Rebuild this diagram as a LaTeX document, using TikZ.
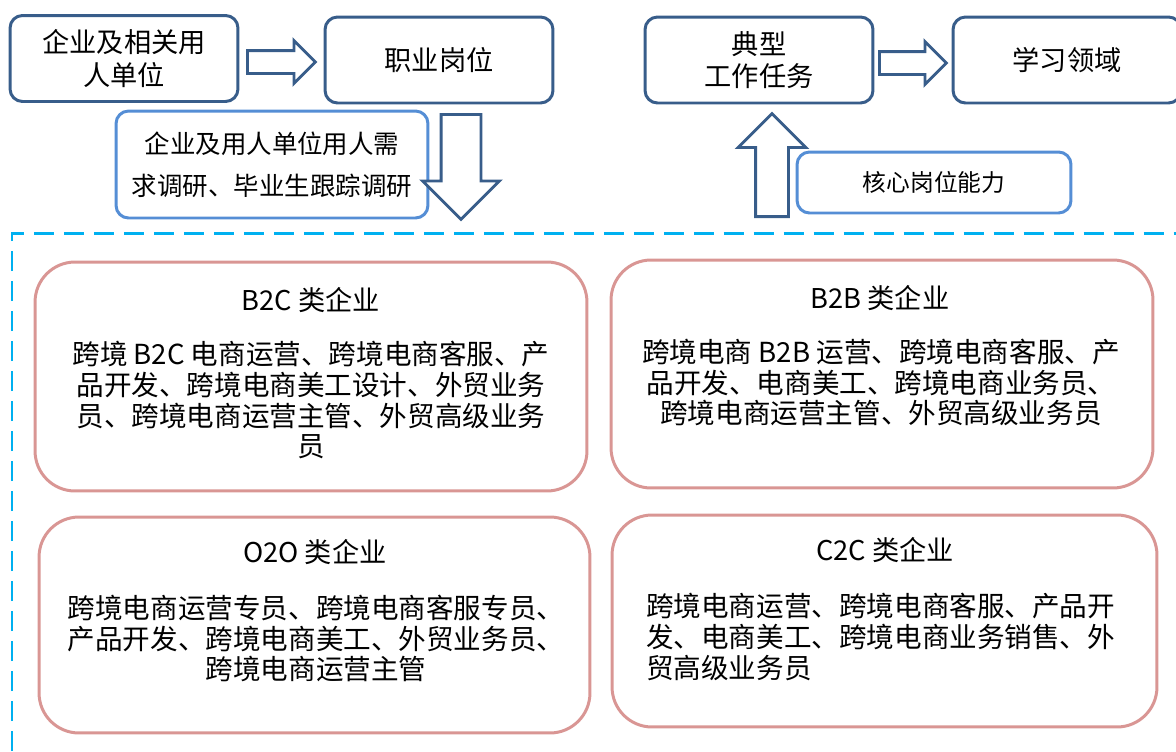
\documentclass[tikz,border=0pt]{standalone}
\usepackage{fontspec}
\setmainfont{Noto Sans CJK SC}
\usetikzlibrary{shapes.arrows}
\definecolor{boxblue}{HTML}{385D8A}
\definecolor{lightblue}{HTML}{558ED5}
\definecolor{pinkline}{HTML}{D99694}
\definecolor{dashblue}{HTML}{00B0F0}

\begin{document}
\begin{tikzpicture}[x=0.02cm,y=-0.02cm,
        topbox/.style={draw=boxblue, line width=1.7pt, rounded corners=0.25cm,
            minimum width=4.56cm, minimum height=1.72cm, align=center,
            font=\fontsize{15.5}{18.5}\selectfont},
        notebox/.style={draw=lightblue, line width=1.7pt, rounded corners=0.25cm, align=center},
        typebox/.style={draw=pinkline, line width=1.7pt, rounded corners=0.8cm},
        typetitle/.style={font=\fontsize{15.5}{18}\selectfont},
        typetext/.style={font=\fontsize{15.7}{17.6}\selectfont},
        hollowarrow/.style={single arrow, draw=boxblue, line width=1.6pt, fill=white,
            inner xsep=0pt, anchor=tail}]
        \useasboundingbox (0,0) rectangle (1176,751);
        \clip (0,0) rectangle (1176,751);

        % top row
        \node[topbox] (unit) at (124,58.5) {企业及相关用\\人单位};
        \node[topbox] (post) at (439,60) {职业岗位};
        \node[topbox] (task) at (759,60) {典型\\工作任务};
        \node[topbox] (field) at (1067,60) {学习领域};

        \node[notebox, minimum width=6.24cm, minimum height=2.14cm,
            font=\fontsize{14.5}{23.8}\selectfont] (survey) at (272,164.5)
            {企业及用人单位用人需\\求调研、毕业生跟踪调研};
        \node[notebox, minimum width=5.48cm, minimum height=1.22cm,
            font=\fontsize{13.5}{16}\selectfont] (core) at (934,182.5) {核心岗位能力};

        % block arrows
        \node[hollowarrow, inner ysep=0.2cm, single arrow head extend=0.2cm,
            minimum height=1.36cm] (toPost) at (246,62) {};
        \node[hollowarrow, inner ysep=0.2cm, single arrow head extend=0.2cm,
            minimum height=1.34cm] (toField) at (878,63) {};
        \node[hollowarrow, inner ysep=0.37cm, single arrow head extend=0.37cm,
            minimum height=2.1cm, rotate=-90] (down) at (461,113) {};
        \node[hollowarrow, inner ysep=0.3cm, single arrow head extend=0.35cm,
            minimum height=2.06cm, rotate=90] (up) at (772,218) {};

        % dashed frame
        \draw[dashblue, line width=1.7pt, dash pattern=on 0.4cm off 0.2cm]
            (12,751) -- (12,233) -- (1176,233);

        % enterprise types
        \node[typebox, minimum width=11.04cm, minimum height=4.58cm] (b2c) at (311,376.5) {};
        \node[typebox, minimum width=10.84cm, minimum height=4.56cm] (b2b) at (882,374) {};
        \node[typebox, minimum width=11.02cm, minimum height=4.32cm] (o2o) at (314.5,625) {};
        \node[typebox, minimum width=10.9cm, minimum height=4.24cm] (c2c) at (884.5,621) {};

        \node[typetitle] (b2cTitle) at (311,300) {B2C 类企业};
        \node[typetitle] (b2bTitle) at (880,298) {B2B 类企业};
        \node[typetitle] (o2oTitle) at (315,552) {O2O 类企业};
        \node[typetitle] (c2cTitle) at (885,550) {C2C 类企业};

        \node[typetext, align=center] (b2cText) at (311,400)
            {跨境 B2C 电商运营、跨境电商客服、产\\品开发、跨境电商美工设计、外贸业务\\员、跨境电商运营主管、外贸高级业务\\员};
        \node[typetext, align=center] (b2bText) at (881,382.5)
            {跨境电商 B2B 运营、跨境电商客服、产\\品开发、电商美工、跨境电商业务员、\\跨境电商运营主管、外贸高级业务员};
        \node[typetext, align=center] (o2oText) at (316,638.5)
            {跨境电商运营专员、跨境电商客服专员、\\产品开发、跨境电商美工、外贸业务员、\\跨境电商运营主管};
        \node[typetext, align=left, anchor=west] (c2cText) at (640,637)
            {跨境电商运营、跨境电商客服、产品开\\发、电商美工、跨境电商业务销售、外\\贸高级业务员};

    \end{tikzpicture}
\end{document}
